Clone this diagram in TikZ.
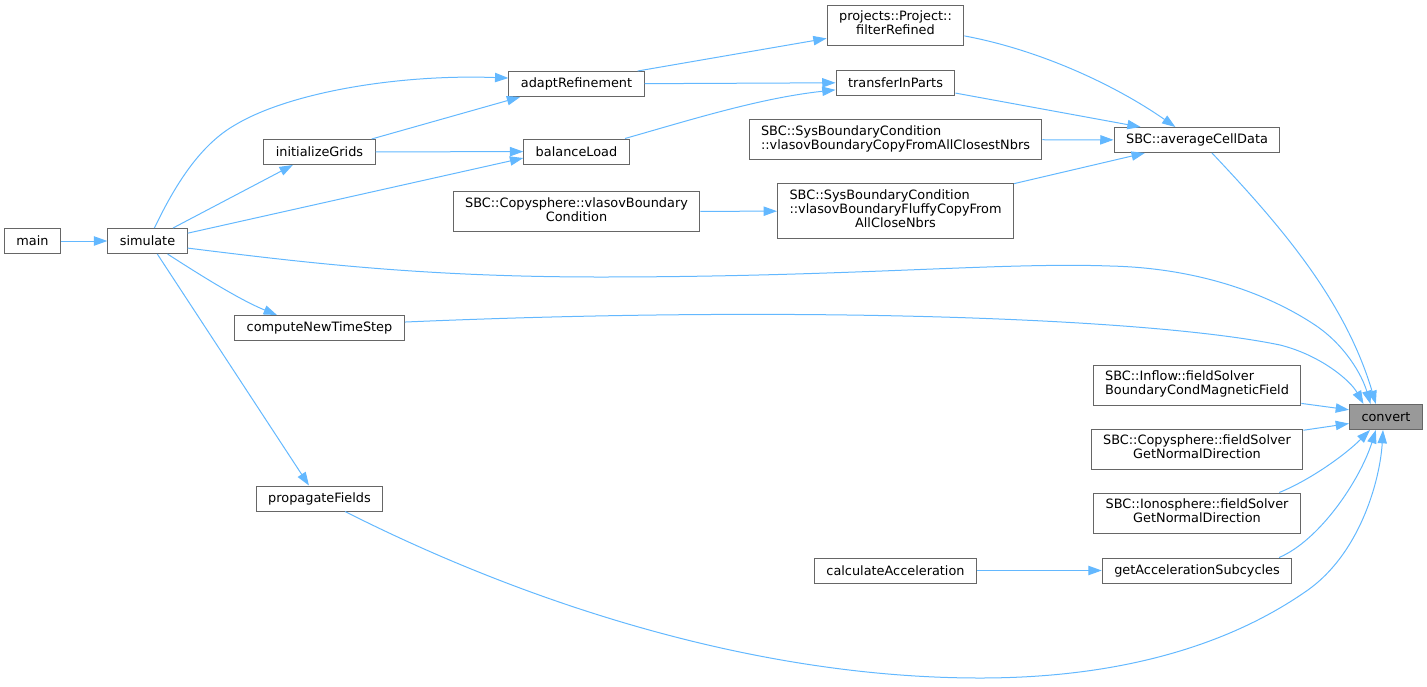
\documentclass[tikz,border=0pt]{standalone}
\usepackage{fontspec}
\setmainfont{DejaVu Sans}
\usepackage{tikz}
\usetikzlibrary{arrows.meta}
\definecolor{edgeblue}{HTML}{63B8FF}
\definecolor{boxgray}{HTML}{666666}
\definecolor{hilite}{HTML}{999999}
\newcommand{\fnsize}{\fontsize{9.65pt}{10.6pt}\selectfont}
\newcommand{\twoln}[2]{\begin{tabular}{@{}l@{}}#1\\\multicolumn{1}{@{}c@{}}{#2}\end{tabular}}
\newcommand{\threeln}[3]{\begin{tabular}{@{}l@{}}#1\\#2\\\multicolumn{1}{@{}c@{}}{#3}\end{tabular}}

\begin{document}
\begin{tikzpicture}[x=0.75pt,y=-0.75pt,
  fn/.style={draw=boxgray, fill=white, line width=0.75pt, inner xsep=9pt, inner ysep=4.4pt, minimum height=18.75pt, font=\fnsize},
  call/.style={draw=edgeblue, line width=0.75pt, -{Triangle[length=10pt,width=7pt]}}]
\useasboundingbox (0,0) rectangle (1427,686);

\node (main) at (32.5,241) [fn] {main};
\node (simulate) at (147.5,241) [fn] {simulate};
% callers of rank 2
\node (initializeGrids) at (319.5,152) [fn] {initializeGrids};
\node (computeNewTimeStep) at (319.5,328) [fn] {computeNewTimeStep};
\node (propagateFields) at (319.5,498.5) [fn] {propagateFields};
% rank 3
\node (adaptRefinement) at (576.5,84) [fn] {adaptRefinement};
\node (balanceLoad) at (576.5,151.5) [fn] {balanceLoad};
\node (copysphereVlasov) at (576.5,211.5) [fn] {\twoln{SBC::Copysphere::vlasovBoundary}{Condition}};
% rank 4
\node (filterRefined) at (895.5,25) [fn] {\twoln{projects::Project::}{filterRefined}};
\node (transferInParts) at (895.5,82.5) [fn] {transferInParts};
\node (copyClosest) at (895.5,139.5) [fn] {\twoln{SBC::SysBoundaryCondition}{::vlasovBoundaryCopyFromAllClosestNbrs}};
\node (fluffyCopy) at (895.5,211) [fn] {\threeln{SBC::SysBoundaryCondition}{::vlasovBoundaryFluffyCopyFrom}{AllCloseNbrs}};
\node (calcAccel) at (895.5,570.5) [fn] {calculateAcceleration};
% rank 5
\node (averageCellData) at (1197,140) [fn] {SBC::averageCellData};
\node (inflowField) at (1197,385) [fn] {\twoln{SBC::Inflow::fieldSolver}{BoundaryCondMagneticField}};
\node (copysphereNormal) at (1197,449) [fn] {\twoln{SBC::Copysphere::fieldSolver}{GetNormalDirection}};
\node (ionosphereNormal) at (1197,513) [fn] {\twoln{SBC::Ionosphere::fieldSolver}{GetNormalDirection}};
\node (getAccelSub) at (1197,570.5) [fn] {getAccelerationSubcycles};
% the function itself
\node (convert) at (1386,417) [fn, fill=hilite] {convert};

\draw[call] (main) -- (simulate);
\draw[call] (simulate.62) .. controls (175,185) and (200,145) .. (235,125) .. controls (290,92) and (400,74) .. (adaptRefinement.175);
\draw[call] (simulate.27) -- (initializeGrids.206);
\draw[call] (simulate.11) -- (balanceLoad.187);
\draw[call] (simulate.-10) .. controls (300,262) and (420,277) .. (600,277) .. controls (850,277) and (1000,262) .. (1110,266) .. controls (1200,268) and (1270,295) .. (1315,325) .. controls (1345,345) and (1362,375) .. (convert.140);
\draw[call] (simulate.-33) .. controls (200,275) and (240,300) .. (computeNewTimeStep.163);
\draw[call] (simulate.-53) -- (propagateFields.129);
\draw[call] (initializeGrids.14) -- (adaptRefinement.193);
\draw[call] (initializeGrids) -- (balanceLoad);
\draw[call] (adaptRefinement.12) -- (filterRefined.191);
\draw[call] (adaptRefinement) -- (transferInParts);
\draw[call] (balanceLoad.15) .. controls (690,120) and (760,98) .. (transferInParts.187);
\draw[call] (filterRefined.-9) .. controls (1040,50) and (1115,85) .. (averageCellData.149);
\draw[call] (transferInParts.-10) -- (averageCellData.167);
\draw[call] (copyClosest) -- (averageCellData);
\draw[call] (fluffyCopy.13) -- (averageCellData.194);
\draw[call] (copysphereVlasov) -- (fluffyCopy);
\draw[call] (averageCellData.-41) .. controls (1280,225) and (1345,300) .. (convert.128);
\draw[call] (computeNewTimeStep.4) .. controls (800,305) and (1150,318) .. (1280,345) .. controls (1320,355) and (1350,380) .. (convert.150);
\draw[call] (inflowField.-10) -- (convert.169);
\draw[call] (copysphereNormal.10) -- (convert.190);
\draw[call] (ionosphereNormal.14) .. controls (1310,480) and (1345,455) .. (convert.219);
\draw[call] (getAccelSub.9) .. controls (1320,540) and (1360,480) .. (convert.232);
\draw[call] (calcAccel) -- (getAccelSub);
\draw[call] (propagateFields.-27) .. controls (520,600) and (750,678) .. (980,678) .. controls (1150,678) and (1250,630) .. (1305,592) .. controls (1360,555) and (1380,480) .. (convert.257);
\end{tikzpicture}
\end{document}
